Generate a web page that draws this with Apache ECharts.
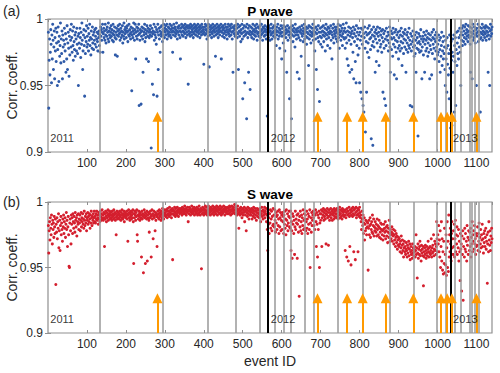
<!DOCTYPE html>
<html><head><meta charset="utf-8">
<script src="https://cdn.jsdelivr.net/npm/echarts@6/dist/echarts.min.js"></script>
<style>html,body{margin:0;padding:0;background:#fff}#c{width:500px;height:373px}</style>
</head><body><div id="c"></div>
<script>
// Correlation coefficients x1000, one per event ID (1..1140)
const pCorr = [
990,933,969,985,958,975,992,981,952,988,970,996,984,962,979,991,955,986,976,993,
968,982,990,950,977,994,983,953,987,972,980,997,967,985,974,991,955,988,979,984,
968,993,981,976,989,960,985,970,995,962,982,990,978,957,987,973,992,984,979,996,
986,975,991,980,969,994,983,977,988,972,990,985,976,993,981,974,987,950,989,982,
978,993,986,971,990,981,997,984,962,976,988,992,980,942,986,974,991,983,995,979,
987,981,993,976,989,984,996,980,986,973,991,985,978,994,982,988,977,990,984,992,
981,987,993,979,985,990,983,976,989,986,991,980,988,975,994,987,992,984,990,996,
975,989,993,986,991,984,996,988,982,992,987,994,990,985,997,983,991,988,993,986,
990,995,987,992,984,989,996,983,991,988,994,986,973,990,985,993,988,972,991,995,
987,992,989,996,984,990,993,986,991,988,995,982,990,987,997,985,992,989,994,991,
986,993,990,995,983,991,988,996,987,992,989,985,994,990,946,988,993,986,991,997,
989,984,992,996,970,990,987,994,985,991,993,988,996,935,989,984,992,990,936,987,
994,991,985,960,993,988,990,996,983,992,986,989,970,995,991,987,993,968,990,986,
992,988,995,990,903,987,993,951,989,991,943,996,984,990,988,994,986,981,992,942,
990,996,962,988,993,985,991,975,994,989,987,995,990,983,992,988,996,991,986,993,
990,995,988,992,996,985,991,989,994,987,993,990,996,988,992,986,995,990,993,975,
991,988,996,993,990,994,987,992,989,997,991,985,994,990,993,988,995,991,986,970,
993,990,996,988,994,991,987,995,990,993,989,996,992,986,994,990,995,988,993,951,
991,995,989,993,987,996,990,994,988,992,995,990,986,993,989,996,991,994,988,992,
995,990,993,987,996,991,989,994,992,986,995,990,993,988,996,991,994,989,992,966,
990,994,988,996,992,989,995,985,991,993,987,996,990,964,994,988,992,995,990,986,
993,989,996,991,994,987,992,990,995,972,988,993,991,996,989,994,986,992,990,995,
988,993,991,996,970,990,994,987,992,995,989,993,986,991,996,990,994,988,992,985,
994,990,996,989,992,987,995,991,993,988,996,990,985,994,960,991,993,989,995,987,
992,988,995,990,993,986,996,989,962,994,991,987,995,990,983,992,989,996,985,940,
993,990,987,995,952,991,988,994,989,925,996,990,986,993,960,989,995,991,947,988,
994,990,986,993,989,996,991,985,992,988,995,990,987,993,991,996,984,989,994,990,
987,993,990,995,986,991,988,996,992,989,984,994,990,993,987,991,995,988,992,985,
990,994,927,988,992,986,995,990,993,984,991,988,996,989,985,993,990,994,987,991,
995,989,986,992,990,980,994,988,991,996,985,990,993,987,978,992,989,995,990,970,
987,993,990,982,995,988,991,976,994,989,986,992,960,990,995,984,991,988,993,940,
990,986,994,989,925,992,988,995,983,991,987,993,990,979,996,988,992,985,990,960,
993,988,991,986,955,994,990,984,992,972,989,995,987,991,983,993,989,996,985,990,
992,987,994,981,990,986,993,989,965,995,985,991,988,994,982,990,987,993,989,996,
984,991,988,993,976,990,985,994,962,989,992,947,986,995,983,990,938,987,993,981,
990,986,994,979,991,988,995,983,990,987,993,976,989,996,985,992,988,980,994,990,
986,993,989,978,991,995,984,990,970,988,993,986,996,982,991,989,994,987,992,985,
990,994,983,989,996,986,992,978,990,988,995,984,991,987,993,980,989,996,986,991,
985,993,978,990,986,997,982,970,991,988,965,994,984,990,960,987,993,981,989,962,
991,986,975,994,955,989,983,992,968,987,952,995,980,990,985,973,993,988,978,952,
990,984,945,993,987,940,981,992,935,989,930,986,994,978,915,990,983,945,988,975,
993,982,989,971,995,985,990,977,986,910,992,980,988,905,983,994,979,987,990,960,
985,992,968,989,982,994,976,987,990,965,984,993,979,988,981,991,975,986,992,945,
983,989,978,940,991,985,935,980,993,987,925,984,990,976,988,982,994,979,960,986,
991,977,985,989,972,993,981,986,958,990,979,984,992,975,955,988,983,990,978,970,
986,980,991,976,988,983,993,978,965,987,982,990,974,985,989,979,992,984,960,977,
988,982,990,975,986,980,993,978,984,935,989,981,976,987,934,983,991,979,985,972,
980,988,974,984,960,990,978,986,982,912,977,989,983,975,987,981,992,976,985,955,
979,987,983,973,990,985,960,981,988,976,984,991,978,986,972,982,989,975,985,955,
980,988,977,984,958,990,974,986,981,992,978,985,970,988,983,976,990,979,986,973,
981,975,988,968,984,977,960,986,972,980,990,965,976,983,970,987,974,979,962,950,
984,970,978,945,986,966,980,958,974,940,988,963,977,918,983,969,920,975,985,960,
972,988,930,980,968,986,935,977,990,965,982,974,991,970,986,979,993,975,988,950,
990,984,993,980,988,995,983,991,986,994,981,989,996,985,992,987,990,983,995,988,
991,986,994,981,960,990,987,993,955,989,996,984,991,986,994,988,982,992,989,950,
993,987,990,996,983,991,988,994,985,930,990,986,993,989,996,984,991,988,994,990,
986,993,989,995,984,991,987,994,990,960,988,993,985,950,991,996,987,992,989,994
];
const sCorr = [
982,961,978,985,971,988,980,975,990,983,968,986,979,984,973,989,981,976,987,937,
983,977,988,972,985,980,991,965,978,986,963,982,989,975,984,979,970,987,981,990,
976,985,980,988,973,983,992,979,986,966,981,989,975,951,950,984,987,978,968,990,
983,988,976,991,985,980,989,984,977,992,986,981,988,974,990,985,983,991,979,987,
984,990,978,986,992,981,988,985,991,983,987,980,993,986,982,989,984,991,978,988,
986,992,983,989,985,991,987,980,990,984,993,988,982,989,986,991,984,988,993,985,
989,984,991,987,993,986,990,988,983,992,987,990,985,993,989,986,991,988,994,987,
990,986,992,988,966,991,987,993,989,985,992,988,990,994,986,991,989,993,987,990,
992,988,990,986,993,989,991,987,994,990,988,992,986,991,975,989,993,987,990,992,
988,991,987,993,989,990,986,992,988,994,990,987,991,989,993,985,990,992,988,991,
989,993,987,991,970,990,994,988,992,986,991,989,993,987,990,992,988,994,985,953,
991,988,993,990,986,992,989,994,975,970,990,987,993,989,991,986,992,988,990,958,
993,987,991,989,946,990,994,988,992,953,989,991,987,993,955,990,988,992,986,977,
991,988,993,989,958,990,994,987,991,972,989,993,988,990,978,992,986,991,989,966,
990,993,988,991,987,994,989,992,990,986,993,988,991,995,989,992,987,990,994,991,
992,989,994,990,993,988,995,991,990,993,989,996,992,990,994,991,988,993,995,956,
991,994,990,993,996,992,989,995,991,993,990,996,992,994,989,993,995,991,994,992,
995,992,994,990,996,993,991,995,992,994,997,991,993,995,990,994,992,996,993,985,
994,991,996,993,995,990,994,992,997,993,991,995,992,994,996,990,993,995,991,994,
992,996,993,990,995,991,994,997,992,993,990,995,993,949,994,991,996,992,994,990,
995,992,994,997,991,993,996,992,990,994,993,997,991,995,992,994,990,996,993,995,
991,994,997,992,995,990,993,996,992,994,991,995,997,993,990,994,996,992,995,991,
994,997,992,995,990,993,996,991,994,992,997,993,995,990,994,996,992,995,993,991,
996,993,995,991,994,997,992,996,990,994,993,997,991,995,993,996,992,994,998,991,
994,996,992,995,990,993,997,991,994,980,992,995,990,993,996,991,994,988,992,995,
990,994,992,996,985,993,990,995,978,992,994,989,996,991,993,987,995,990,994,992,
993,990,995,987,992,994,989,996,991,993,988,995,990,993,986,992,995,989,994,991,
994,988,992,995,990,985,993,991,996,989,993,987,994,990,992,996,988,993,991,995,
985,990,979,963,992,983,988,976,991,984,994,980,987,993,978,989,982,995,983,990,
981,994,986,977,992,984,989,979,990,993,982,987,976,994,981,988,992,978,986,990,
979,992,985,989,976,990,983,993,980,987,975,994,986,982,991,978,984,989,993,981,
988,980,993,963,985,978,957,991,983,989,976,986,960,981,993,979,987,984,990,957,
983,991,977,986,928,989,981,993,978,985,990,976,988,982,994,979,986,991,980,987,
990,978,985,993,980,987,976,991,983,989,979,994,950,984,988,977,992,982,986,990,
993,988,982,991,979,990,994,985,966,992,983,958,990,979,988,993,950,984,991,986,
991,994,966,988,993,990,995,986,992,989,994,987,991,968,993,990,995,988,992,967,
989,994,986,992,990,995,988,991,993,986,994,990,992,987,995,989,993,991,994,988,
991,995,989,993,987,994,990,992,996,988,991,994,989,993,987,995,990,992,994,989,
993,990,963,994,988,992,958,995,990,993,955,991,996,989,966,994,992,952,990,995,
993,989,996,991,962,994,990,995,956,992,996,988,993,990,995,962,991,994,989,996,
992,988,990,985,979,993,987,982,990,976,984,988,971,983,978,986,980,975,985,981,
984,948,980,986,975,982,988,973,983,979,985,977,990,976,982,987,974,981,978,985,
980,977,983,974,987,979,982,975,981,986,973,980,977,984,972,979,983,975,978,971,
979,983,974,980,977,985,972,978,981,974,982,969,977,980,973,986,976,970,979,975,
972,977,981,970,976,974,979,968,975,971,978,966,973,976,969,974,964,971,967,973,
966,972,968,962,970,965,974,961,967,971,963,968,958,965,970,962,966,960,964,969,
963,958,967,961,965,970,959,964,968,956,962,966,960,963,957,968,961,965,959,964,
962,966,958,963,975,960,965,942,961,968,957,964,960,966,970,959,963,955,967,961,
964,959,966,936,962,958,965,960,967,963,957,961,966,959,964,970,962,958,965,961,
966,960,963,972,958,965,961,967,962,975,959,964,970,963,968,960,966,985,972,962,
975,968,982,962,971,958,978,950,966,985,955,972,948,962,945,970,953,980,946,960,
952,975,944,965,985,950,970,947,990,958,975,962,980,968,955,976,985,965,972,960,
978,966,983,958,972,986,962,975,968,981,960,974,965,979,955,970,962,940,976,964,
968,932,974,960,978,925,966,972,958,980,964,976,962,970,955,982,967,973,960,978,
971,963,977,966,980,958,973,968,985,962,975,970,978,964,982,968,972,960,976,966,
974,967,981,963,976,970,984,962,973,968,979,965,975,971,983,966,972,961,976,969,
978,966,973,980,964,970,975,938,968,977,962,985,971,967,978,963,974,969,980,972
];
const grayLineIDs = [134,295,409,481,544,583,605,623,660,682,743,809,878,938,999,1022,1044,1059,1083,1089,1095,1106];
const yearLineIDs = [565,1033];
const arrowIDs = [281,692,768,808,867,938,1009,1025,1037,1100];
const yearNames = ['2011','2012','2013'];
const yearStartIDs = [6,572,1040];
const panelTitles = ['P wave','S wave'];
const panelTags = ['(a)','(b)'];
const xLabelTicks = [100,200,300,400,500,600,700,800,900,1000,1100];
const yLabelTicks = [0.9,0.95,1];

const FONT = 'Liberation Sans, Arial, Helvetica, sans-serif';
const BOX = '#8f8f8f';
const grids = [
  {left:48, top:19, width:444, height:133},
  {left:48, top:202, width:444, height:131}
];
const colors = ['#2f5aa8','#d41f2e'];
const dataSets = [pCorr, sCorr];

const xAxes = [], yAxes = [], series = [];
grids.forEach((g, gi) => {
  g.show = true; g.borderColor = BOX; g.borderWidth = 1.2; g.backgroundColor = '#fff';
  const tick = {show:true, inside:true, length:3, lineStyle:{color:BOX, width:1}};
  xAxes.push({gridIndex:gi, type:'value', min:0, max:1140, interval:100, position:'bottom',
    axisLine:{show:false}, axisTick:tick, splitLine:{show:false},
    axisLabel:{color:'#262626', fontSize:12, fontFamily:FONT, margin:5, showMaxLabel:false, showMinLabel:false,
      formatter: v => xLabelTicks.includes(v) ? String(v) : ''},
    name: gi === 1 ? 'event ID' : '', nameLocation:'middle', nameGap:21,
    nameTextStyle:{color:'#262626', fontSize:14, fontFamily:FONT}});
  xAxes.push({gridIndex:gi, type:'value', min:0, max:1140, interval:100, position:'top',
    axisLine:{show:false}, axisTick:tick, splitLine:{show:false}, axisLabel:{show:false}});
  yAxes.push({gridIndex:gi, type:'value', min:0.9, max:1, interval:0.05, position:'left',
    axisLine:{show:false}, axisTick:tick, splitLine:{show:false},
    axisLabel:{color:'#262626', fontSize:12, fontFamily:FONT, margin:5,
      formatter: v => { const r = Math.round(v*100)/100; return yLabelTicks.includes(r) ? String(r) : ''; }}});
  yAxes.push({gridIndex:gi, type:'value', min:0.9, max:1, interval:0.05, position:'right',
    axisLine:{show:false}, axisTick:tick, splitLine:{show:false}, axisLabel:{show:false}});

  const xi = gi*2, yi = gi*2;
  // vertical event-group lines
  series.push({type:'scatter', xAxisIndex:xi, yAxisIndex:yi, data:[], z:1, silent:true,
    markLine:{silent:true, symbol:['none','none'], animation:false, label:{show:false},
      data: grayLineIDs.map(v => ({xAxis:v, lineStyle:{color:'#999', width:1.5, type:'solid'}}))
        .concat(yearLineIDs.map(v => ({xAxis:v, lineStyle:{color:'#000', width:2, type:'solid'}})))}});
  // scatter points
  series.push({type:'scatter', xAxisIndex:xi, yAxisIndex:yi, z:3, symbolSize:3, animation:false,
    itemStyle:{color:colors[gi], opacity:1},
    data: dataSets[gi].map((v,i) => [i+1, v/1000])});
  // arrows
  series.push({type:'scatter', xAxisIndex:xi, yAxisIndex:yi, data:[], z:5, silent:true,
    markLine:{silent:true, animation:false, symbol:['none','triangle'], symbolSize:10, label:{show:false},
      lineStyle:{color:'#ff9a00', width:2, type:'solid'}, itemStyle:{color:'#ff9a00'},
      data: arrowIDs.map(v => [{coord:[v,0.9]},{coord:[v,0.9265]}])}});
  // year labels
  series.push({type:'scatter', xAxisIndex:xi, yAxisIndex:yi, z:6, silent:true, symbolSize:0, animation:false,
    data: yearNames.map((n,k) => ({name:n, value:[yearStartIDs[k], 0.9105]})),
    label:{show:true, position:'right', distance:0, formatter:'{b}', color:'#000', fontSize:11, fontFamily:FONT}});
});

const graphic = [];
const titleY = [11, 194], tagY = [11, 202];
panelTitles.forEach((t, k) => {
  graphic.push({type:'text', x:270, y:titleY[k], style:{text:t, font:'bold 13.5px '+FONT, fill:'#000',
    align:'center', verticalAlign:'middle', textAlign:'center', textVerticalAlign:'middle'}});
  graphic.push({type:'text', x:3, y:tagY[k], style:{text:panelTags[k], font:'14px '+FONT, fill:'#262626',
    align:'left', verticalAlign:'middle', textAlign:'left', textVerticalAlign:'middle'}});
  const cy = grids[k].top + grids[k].height/2;
  graphic.push({type:'text', x:12, y:cy, rotation:Math.PI/2, style:{text:'Corr. coeff.', font:'14px '+FONT, fill:'#262626',
    align:'center', verticalAlign:'middle', textAlign:'center', textVerticalAlign:'middle'}});
});

const chart = echarts.init(document.getElementById('c'), null, {renderer:'svg'});
chart.setOption({
  animation:false, backgroundColor:'#fff',
  grid:grids, xAxis:xAxes, yAxis:yAxes, series:series, graphic:graphic
});
</script></body></html>
